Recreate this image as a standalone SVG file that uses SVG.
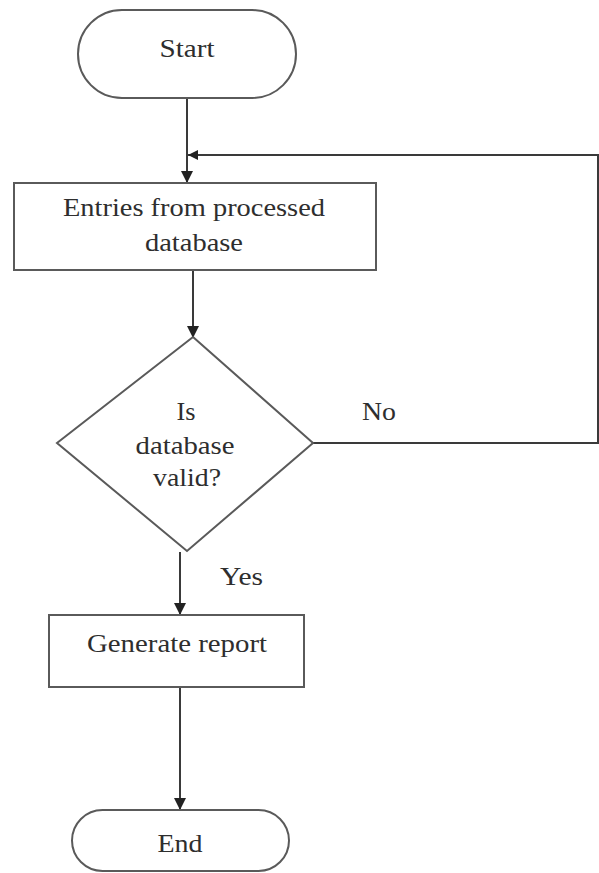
<svg xmlns="http://www.w3.org/2000/svg" width="599" height="873" viewBox="0 0 599 873">
  <style>
    .shape { fill: #ffffff; stroke: #5a5a5a; stroke-width: 2; }
    .conn { fill: none; stroke: #3a3a3a; stroke-width: 2; }
    .lbl { font-family: "Liberation Serif", "Times New Roman", serif; font-size: 24.5px; fill: #2e2e2e; text-anchor: middle; }
    .edge { font-family: "Liberation Serif", "Times New Roman", serif; font-size: 24.5px; fill: #2e2e2e; }
  </style>
  <defs>
    <marker id="arrow" viewBox="0 0 12 12" refX="12" refY="6" markerWidth="12" markerHeight="12" markerUnits="userSpaceOnUse" orient="auto">
      <path d="M0,0 L12,6 L0,12 z" fill="#222222"/>
    </marker>
    <marker id="arrowSmall" viewBox="0 0 10 10" refX="10" refY="5" markerWidth="10" markerHeight="10" markerUnits="userSpaceOnUse" orient="auto">
      <path d="M0,0 L10,5 L0,10 z" fill="#222222"/>
    </marker>
  </defs>
  <rect width="599" height="873" fill="#ffffff"/>

  <g id="connectors">
    <line class="conn" x1="187" y1="98" x2="187" y2="183" marker-end="url(#arrow)"/>
    <line class="conn" x1="193" y1="270" x2="193" y2="338" marker-end="url(#arrow)"/>
    <polyline class="conn" points="313,443 598,443 598,155 188,155" marker-end="url(#arrowSmall)"/>
    <line class="conn" x1="180" y1="552" x2="180" y2="615" marker-end="url(#arrow)"/>
    <line class="conn" x1="180" y1="687" x2="180" y2="810" marker-end="url(#arrow)"/>
    <text class="edge" x="362" y="420" textLength="34" lengthAdjust="spacingAndGlyphs">No</text>
    <text class="edge" x="220" y="585" textLength="43" lengthAdjust="spacingAndGlyphs">Yes</text>
  </g>

  <g id="start">
    <rect class="shape" x="78" y="10" width="218" height="88" rx="44" ry="44"/>
    <text class="lbl" x="187" y="57" textLength="55" lengthAdjust="spacingAndGlyphs">Start</text>
  </g>

  <g id="entries">
    <rect class="shape" x="14" y="183" width="362" height="87"/>
    <text class="lbl" x="194" y="216" textLength="262" lengthAdjust="spacingAndGlyphs">Entries from processed</text>
    <text class="lbl" x="194" y="251" textLength="98" lengthAdjust="spacingAndGlyphs">database</text>
  </g>

  <g id="decision">
    <polygon class="shape" points="193,337 313,443 187,551 57,443"/>
    <text class="lbl" x="186" y="420" textLength="19" lengthAdjust="spacingAndGlyphs">Is</text>
    <text class="lbl" x="185" y="454" textLength="99" lengthAdjust="spacingAndGlyphs">database</text>
    <text class="lbl" x="187" y="486" textLength="68" lengthAdjust="spacingAndGlyphs">valid?</text>
  </g>

  <g id="report">
    <rect class="shape" x="49" y="615" width="255" height="72"/>
    <text class="lbl" x="177" y="652" textLength="180" lengthAdjust="spacingAndGlyphs">Generate report</text>
  </g>

  <g id="end">
    <rect class="shape" x="72" y="810" width="217" height="61" rx="30.5" ry="30.5"/>
    <text class="lbl" x="180" y="852" textLength="45" lengthAdjust="spacingAndGlyphs">End</text>
  </g>
</svg>
